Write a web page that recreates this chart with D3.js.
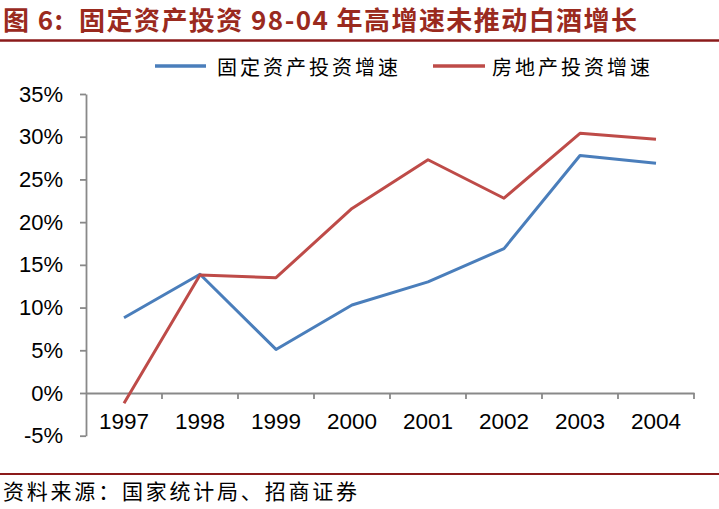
<!DOCTYPE html>
<html><head><meta charset="utf-8">
<script src="https://cdn.jsdelivr.net/npm/d3@7"></script>
<style>
html,body{margin:0;padding:0;background:#fff;}
svg{display:block;}
</style></head>
<body>
<svg id="chart" width="719" height="509"></svg>
<script>
const years = ["1997","1998","1999","2000","2001","2002","2003","2004"];
const faiGrowth = [8.8, 13.9, 5.1, 10.3, 13.0, 16.9, 27.8, 26.9];
const reGrowth = [-1.2, 13.8, 13.5, 21.6, 27.3, 22.8, 30.4, 29.7];
const seriesNames = ["固定资产投资增速", "房地产投资增速"];
const yTicks = [-5, 0, 5, 10, 15, 20, 25, 30, 35];
const titleText = "图 6:\u00a0\u00a0固定资产投资 98-04 年高增速未推动白酒增长";
const sourceText = "资料来源：国家统计局、招商证券";

const colors = ["#4A7EBB", "#BE4B48"];
const svg = d3.select("#chart");
svg.append("rect").attr("width",719).attr("height",509).attr("fill","#fff");

// Title
svg.append("text").attr("x",3).attr("y",30)
  .attr("font-family","'Noto Sans CJK SC', 'Liberation Sans', sans-serif")
  .attr("font-weight","bold").attr("font-size",26).attr("fill","#9A2A1E")
  .attr("textLength",634).attr("lengthAdjust","spacing")
  .text(titleText);
svg.append("line").attr("x1",0).attr("x2",719).attr("y1",40.5).attr("y2",40.5)
  .attr("stroke","#8B1A1A").attr("stroke-width",2.5);

// Scales
const x = d3.scaleBand().domain(years).range([86,694]).padding(0);
const y = d3.scaleLinear().domain([-5,35]).range([435.7,94]);
const cx = d => x(d) + x.bandwidth()/2;

const axisColor = "#898989";

// Y axis
const yAxis = svg.append("g").attr("transform","translate(86,0)")
  .call(d3.axisLeft(y).tickValues(yTicks).tickSize(6).tickSizeOuter(0).tickPadding(17)
    .tickFormat(d => d + "%"));
yAxis.selectAll("path,line").attr("stroke",axisColor).attr("stroke-width",1.8);
yAxis.selectAll("text").attr("font-family","'Liberation Sans', Arial, sans-serif")
  .attr("font-size",22).attr("fill","#000");

// X axis
const xAxis = svg.append("g").attr("transform",`translate(0,${y(0)})`)
  .call(d3.axisBottom(x).tickSize(0).tickSizeOuter(0).tickPadding(20));
xAxis.select("path").attr("stroke",axisColor).attr("stroke-width",1.8);
xAxis.selectAll("text").attr("font-family","'Liberation Sans', Arial, sans-serif")
  .attr("font-size",22.5).attr("fill","#000");
xAxis.selectAll(".bound").data(years).enter().append("line")
  .attr("x1", d => x(d)+x.bandwidth()).attr("x2", d => x(d)+x.bandwidth())
  .attr("y1",0).attr("y2",6).attr("stroke",axisColor).attr("stroke-width",1.8);

// Lines
const line = d3.line().x(d => cx(d.year)).y(d => y(d.v));
[faiGrowth, reGrowth].forEach((vals,i) => {
  const data = years.map((yr,j) => ({year:yr, v:vals[j]}));
  svg.append("path").datum(data).attr("d",line).attr("fill","none")
    .attr("stroke",colors[i]).attr("stroke-width",3).attr("stroke-linejoin","round");
});

// Legend
const legendItems = [{x1:155,x2:206,tx:217},{x1:433,x2:485,tx:492}];
legendItems.forEach((p,i) => {
  svg.append("line").attr("x1",p.x1).attr("x2",p.x2).attr("y1",66).attr("y2",66)
    .attr("stroke",colors[i]).attr("stroke-width",3.5);
  svg.append("text").attr("x",p.tx).attr("y",75)
    .attr("font-family","'Noto Sans CJK SC', sans-serif").attr("font-size",20)
    .attr("letter-spacing",3).attr("fill","#000").text(seriesNames[i]);
});

// Source
svg.append("line").attr("x1",0).attr("x2",719).attr("y1",474).attr("y2",474)
  .attr("stroke","#8B1A1A").attr("stroke-width",2);
svg.append("text").attr("x",3).attr("y",499)
  .attr("font-family","'Noto Sans CJK SC', sans-serif").attr("font-size",21)
  .attr("textLength",354).attr("lengthAdjust","spacing")
  .attr("fill","#000").text(sourceText);
</script>
</body></html>
